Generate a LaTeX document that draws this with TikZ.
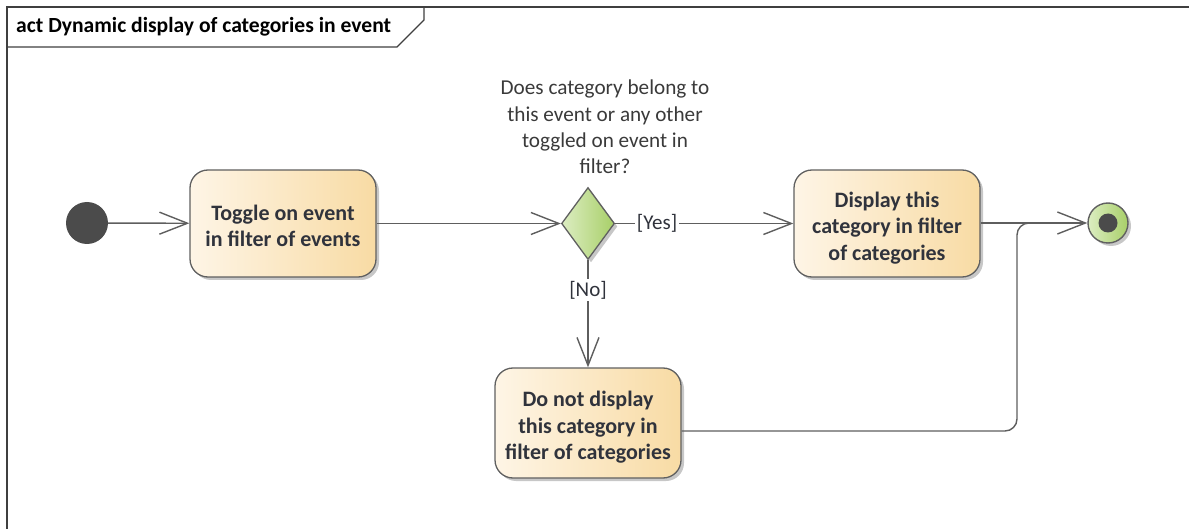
\documentclass[tikz,border=0pt]{standalone}
\usepackage{fontspec}
\setmainfont{Carlito}
\usetikzlibrary{arrows.meta,shapes.geometric,shadows}
\definecolor{linec}{HTML}{5E5E5E}
\definecolor{framec}{HTML}{3F3F3F}
\definecolor{boxborder}{HTML}{606060}
\definecolor{boxl}{HTML}{FEF5E6}
\definecolor{boxr}{HTML}{F8DBA4}
\definecolor{decl}{HTML}{DCEDC2}
\definecolor{decr}{HTML}{A8CF68}
\definecolor{startc}{HTML}{4B4B4B}
\definecolor{txt}{HTML}{30333C}
\definecolor{qtxt}{HTML}{3A3A3A}
\newcommand\toplift[1]{\rule{0pt}{#1}}
\begin{document}
\begin{tikzpicture}[x=1pt,y=-1pt,
  shadowed/.style={drop shadow={shadow xshift=3pt,shadow yshift=-3pt,fill=black,opacity=0.22}},
  action/.style={rectangle, rounded corners=18pt, draw=boxborder, line width=1.3pt,
    left color=boxl, right color=boxr, minimum width=186pt, minimum height=107pt,
    inner sep=2pt, align=center, font=\bfseries\fontsize{22}{26.5}\selectfont, text=txt, shadowed},
  decision/.style={diamond, draw=boxborder, line width=1.3pt, left color=decl, right color=decr,
    minimum width=53pt, minimum height=72pt, inner sep=0pt, shadowed},
  startnode/.style={circle, fill=startc, minimum size=42pt, inner sep=0pt},
  finalnode/.style={circle, draw=boxborder, line width=1.4pt, left color=decl, right color=decr,
    minimum size=40pt, inner sep=0pt, shadowed},
  finaldot/.style={circle, fill=startc, minimum size=19pt, inner sep=0pt},
  guard/.style={fill=white, inner sep=2pt, font=\fontsize{21}{26}\selectfont, text=txt},
  flow/.style={draw=linec, line width=1.4pt, -{Straight Barb[length=28pt,width=22pt,line width=1.4pt]}},
  plain/.style={draw=linec, line width=1.4pt}
]
\useasboundingbox (0,0) rectangle (1189,529);
% frame
\draw[framec, line width=1.6pt] (7,529) -- (7,7) -- (1189,7);
\draw[framec, line width=1.3pt] (7,47) -- (397,47) -- (424,20) -- (424,7);
\node[anchor=base west, inner sep=0pt, font=\bfseries\fontsize{21.6}{26}\selectfont, text=black] (title) at (16,33) {act Dynamic display of categories in event};
% nodes
\node[startnode] (start) at (87,223) {};
\node[action] (toggle) at (283,223.5) {\toplift{20pt}Toggle on event\\in filter of events};
\node[decision] (dec) at (588,223.5) {};
\node[font=\fontsize{21.2}{26.3}\selectfont, text=qtxt, align=center] (q) at (605,127) {Does category belong to\\this event or any other\\toggled on event in\\filter?};
\node[action] (disp) at (887,223.5) {\toplift{24pt}Display this\\category in filter\\of categories};
\node[action, minimum height=110pt] (dnd) at (588,423) {\toplift{24pt}Do not display\\this category in\\filter of categories};
\node[finalnode] (fin) at (1108,223) {};
\node[finaldot] (findot) at (fin.center) {};
% connectors
\draw[flow] (start) -- (toggle);
\draw[flow] (toggle) -- (dec);
\draw[flow] (dec) -- node[guard, pos=0.235] {[Yes]} (disp);
\draw[flow] (dec) -- node[guard, pos=0.28] {[No]} (dnd);
\draw[flow] (disp.east |- fin) -- (fin);
\coordinate (c1) at (1017,431);
\coordinate (c2) at (1017,223);
\draw[plain, rounded corners=12pt] ([yshift=-8pt]dnd.east) -- (c1) -- (c2) -- (1060,223);
\end{tikzpicture}
\end{document}
